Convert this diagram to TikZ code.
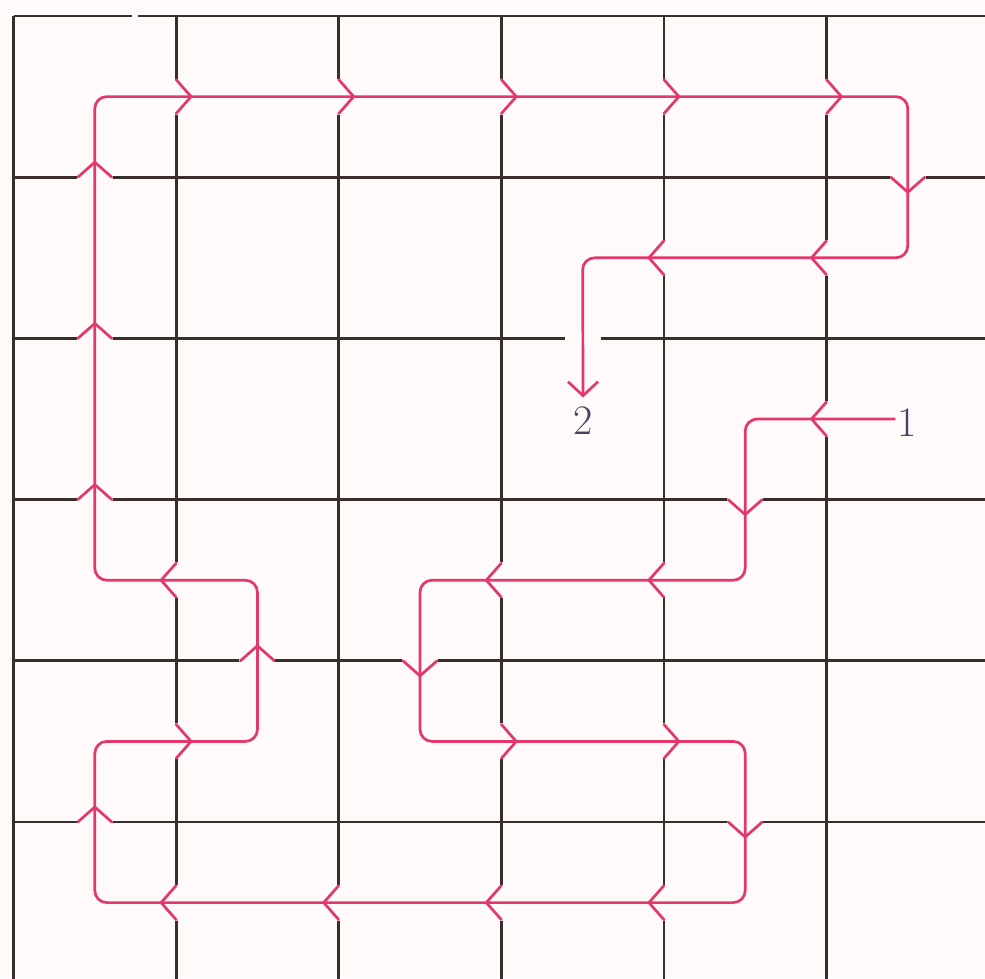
\documentclass[tikz,border=0pt]{standalone}
\usetikzlibrary{arrows.meta}
\definecolor{bg}{HTML}{FDFAF9}
\definecolor{gridc}{HTML}{3A2E2C}
\definecolor{routec}{HTML}{E3386C}
\definecolor{labc}{HTML}{4A4464}
\tikzset{
  gridline/.style={draw=gridc, line width=2.8pt},
  route/.style={draw=routec, line width=2.7pt, line join=round, line cap=round},
  gapcut/.pic={\fill[bg] (-3.5pt,-18pt) rectangle (3.5pt,18pt);},
  chev/.pic={\draw[route] (0pt,17pt) -- (15pt,0pt) -- (0pt,-17pt);},
  lab/.style={text=labc, font=\fontsize{42}{44}\selectfont, inner sep=0pt}
}
\begin{document}
\begin{tikzpicture}[x=162.6pt, y=-161.2pt]
\fill[bg] (-13.5pt,16pt) rectangle (971.5pt,-962pt);
\useasboundingbox (-13.5pt,16pt) rectangle (971.5pt,-962pt);
\clip (-13.5pt,16pt) rectangle (971.5pt,-962pt);
% grid
\draw[gridline] (0,0) -- (0.729,0);
\draw[gridline] (0.766,0) -- (6.2,0);
\foreach \k in {1,...,5} \draw[gridline] (0,\k) -- (6.2,\k);
\foreach \k in {0,...,5} \draw[gridline] (\k,0) -- (\k,6.2);
% crossings: x, y, direction
\def\crossings{5/2.5/180, 4.5/3/270, 4/3.5/180, 3/3.5/180, 2.5/4/270,
  3/4.5/0, 4/4.5/0, 4.5/5/270, 4/5.5/180, 3/5.5/180, 2/5.5/180, 1/5.5/180,
  0.5/5/90, 1/4.5/0, 1.5/4/90, 1/3.5/180, 0.5/3/90, 0.5/2/90, 0.5/1/90,
  1/0.5/0, 2/0.5/0, 3/0.5/0, 4/0.5/0, 5/0.5/0, 5.5/1/270, 5/1.5/180, 4/1.5/180}
\foreach \a/\b/\r in \crossings \pic[rotate=\r] at (\a,\b) {gapcut};
\pic[rotate=270] at (3.5,2) {gapcut};
% labels
\node[lab] (one) at (5.497,2.52) {1};
\node[lab] (two) at (3.503,2.51) {2};
% route corners
\coordinate (c1) at (4.5,2.5);
\coordinate (c2) at (4.5,3.5);
\coordinate (c3) at (2.5,3.5);
\coordinate (c4) at (2.5,4.5);
\coordinate (c5) at (4.5,4.5);
\coordinate (c6) at (4.5,5.5);
\coordinate (c7) at (0.5,5.5);
\coordinate (c8) at (0.5,4.5);
\coordinate (c9) at (1.5,4.5);
\coordinate (c10) at (1.5,3.5);
\coordinate (c11) at (0.5,3.5);
\coordinate (c12) at (0.5,0.5);
\coordinate (c13) at (5.5,0.5);
\coordinate (c14) at (5.5,1.5);
\coordinate (c15) at (3.5,1.5);
\draw[route, rounded corners=12pt, shorten <=3pt, shorten >=9pt,
  -{Straight Barb[length=14pt, width=30pt]}]
  (one.west |- c1) -- (c1) -- (c2) -- (c3) -- (c4) -- (c5) -- (c6) -- (c7)
  -- (c8) -- (c9) -- (c10) -- (c11) -- (c12) -- (c13) -- (c14) -- (c15)
  -- (two.north);
\foreach \a/\b/\r in \crossings \pic[rotate=\r] at (\a,\b) {chev};
\end{tikzpicture}
\end{document}
